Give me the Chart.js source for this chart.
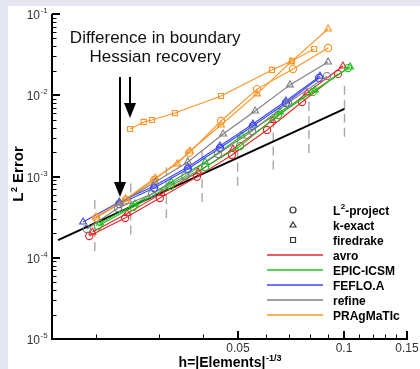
<!DOCTYPE html>
<html>
<head>
<meta charset="utf-8">
<script src="https://cdn.jsdelivr.net/npm/chart.js@4.4.0/dist/chart.umd.min.js"></script>
<style>
html, body { margin:0; padding:0; background:#e6e6f3; }
</style>
</head>
<body>
<canvas id="chart" width="420" height="369"></canvas>
<script>
// --- data: h values and L2 errors per code / method ---
const avroL2H = [0.0191, 0.0241, 0.0302, 0.0384, 0.0482, 0.0605, 0.0759, 0.0959];
const avroL2E = [1.85e-4, 3.08e-4, 5.44e-4, 9.9e-4, 1.84e-3, 3.74e-3, 8.26e-3, 1.83e-2];
const avroKH = [0.0195, 0.0244, 0.0306, 0.0387, 0.0485, 0.0627, 0.0784, 0.0990];
const avroKE = [2.07e-4, 3.5e-4, 6.2e-4, 1.14e-3, 2.18e-3, 4.9e-3, 1.07e-2, 2.29e-2];

const epicL2H = [0.0202, 0.0254, 0.0323, 0.0405, 0.0508, 0.0650, 0.0815, 0.1023];
const epicL2E = [2.46e-4, 4.21e-4, 7.64e-4, 1.31e-3, 2.37e-3, 5.71e-3, 1.10e-2, 2.16e-2];
const epicKH = [0.0205, 0.0257, 0.0325, 0.0405, 0.0514, 0.0658, 0.0826, 0.1037];
const epicKE = [2.68e-4, 4.59e-4, 8.56e-4, 1.51e-3, 3.15e-3, 6.22e-3, 1.16e-2, 2.23e-2];

const fefloL2H = [0.0232, 0.0291, 0.0362, 0.0446, 0.0552, 0.0684, 0.0848];
const fefloL2E = [4.59e-4, 7.22e-4, 1.24e-3, 2.24e-3, 4.18e-3, 8.03e-3, 1.63e-2];
const fefloKH = [0.01835, 0.0232, 0.0291, 0.0362, 0.0446, 0.0552, 0.0684, 0.0853];
const fefloKE = [2.75e-4, 4.85e-4, 7.64e-4, 1.31e-3, 2.37e-3, 4.43e-3, 8.49e-3, 1.72e-2];

const refineL2H = [0.0188, 0.0230, 0.0287, 0.0356, 0.0440, 0.0549, 0.0693, 0.0893];
const refineL2E = [2.26e-4, 4.10e-4, 6.09e-4, 1.01e-3, 1.89e-3, 3.63e-3, 8.03e-3, 1.72e-2];
const refineKH = [0.0233, 0.0293, 0.0362, 0.0455, 0.0560, 0.0702, 0.0899];
const refineKE = [4.72e-4, 8.56e-4, 1.51e-3, 3.33e-3, 6.40e-3, 1.34e-2, 2.57e-2];

const pragL2H = [0.01995, 0.0242, 0.0291, 0.0365, 0.0449, 0.0567, 0.0716, 0.0899];
const pragL2E = [3.08e-4, 5.14e-4, 9.06e-4, 1.95e-3, 4.82e-3, 1.19e-2, 2.10e-2, 3.82e-2];
const pragKH = [0.01995, 0.0242, 0.0293, 0.0338, 0.0367, 0.0449, 0.0567, 0.0707, 0.0899];
const pragKE = [3.17e-4, 5.3e-4, 9.58e-4, 1.43e-3, 2.06e-3, 4.30e-3, 1.04e-2, 2.57e-2, 6.54e-2];
const pragFdH = [0.0249, 0.0272, 0.0287, 0.0333, 0.0449, 0.0625, 0.0712, 0.0821];
const pragFdE = [3.84e-3, 4.69e-3, 4.96e-3, 6.04e-3, 9.79e-3, 2.05e-2, 2.65e-2, 3.71e-2];

// slope-2 reference line
const refH = [0.0156, 0.1];
const refE = [1.65e-4, 6.78e-3];

// dashed vertical bars round the reference line
const dashH = [0.0198, 0.0250, 0.0315, 0.0397, 0.0500, 0.0630, 0.0794, 0.1000];
const dashLo = [1.21e-4, 1.93e-4, 3.06e-4, 4.86e-4, 7.7e-4, 1.22e-3, 1.94e-3, 3.08e-3];
const dashHi = [5.85e-4, 9.32e-4, 1.48e-3, 2.35e-3, 3.73e-3, 5.92e-3, 9.4e-3, 1.49e-2];

// axes
const xMajor = [0.05, 0.1, 0.15];
const xMajorLabels = ['0.05', '0.1', '0.15'];
const xMinor = [0.02, 0.03, 0.04, 0.06, 0.07, 0.08, 0.09, 0.11, 0.12, 0.13, 0.14];
const yDecades = [1e-5, 1e-4, 1e-3, 1e-2, 1e-1];
const yDecadeExp = ['-5', '-4', '-3', '-2', '-1'];

// legend
const codeNames = ['avro', 'EPIC-ICSM', 'FEFLO.A', 'refine', 'PRAgMaTIc'];
const codeColors = ['#e8262a', '#1fc01f', '#3c46ff', '#7f7f7f', '#ff9326'];
const methodNames = ['-project', 'k-exact', 'firedrake'];
const methodStyles = ['circle', 'triangle', 'rect'];

// annotation
const noteLines = ['Difference in boundary', 'Hessian recovery'];
const noteH = 0.0293;
const noteE = [0.0440, 0.0260];
const arrowH = [0.0233, 0.0248];
const arrowTop = [0.0168, 0.0168];
const arrowTip = [5.6e-4, 5.25e-3];

function pts(hs, es) {
    return hs.map((h, i) => ({ x: h, y: es[i] }));
}

function series(hs, es, color, style) {
    return {
        data: pts(hs, es),
        borderColor: color,
        borderWidth: 1.1,
        pointStyle: style,
        pointRadius: style === 'triangle' ? 4 : (style === 'rect' ? 3.6 : 3.6),
        pointBorderColor: color,
        pointBackgroundColor: 'rgba(0,0,0,0)',
        pointBorderWidth: 1.1,
        order: 1
    };
}

const datasets = [];
dashH.forEach((h, i) => {
    datasets.push({
        data: [{ x: h, y: dashLo[i] }, { x: h, y: dashHi[i] }],
        borderColor: '#a8a8a8',
        borderWidth: 1.4,
        borderDash: [9, 5],
        pointRadius: 0,
        order: 10
    });
});
datasets.push({
    data: pts(refH, refE),
    borderColor: '#000',
    borderWidth: 2,
    pointRadius: 0,
    order: 5
});
datasets.push(series(refineL2H, refineL2E, codeColors[3], 'circle'));
datasets.push(series(refineKH, refineKE, codeColors[3], 'triangle'));
datasets.push(series(pragL2H, pragL2E, codeColors[4], 'circle'));
datasets.push(series(pragKH, pragKE, codeColors[4], 'triangle'));
datasets.push(series(pragFdH, pragFdE, codeColors[4], 'rect'));
datasets.push(series(fefloL2H, fefloL2E, codeColors[2], 'circle'));
datasets.push(series(fefloKH, fefloKE, codeColors[2], 'triangle'));
datasets.push(series(epicL2H, epicL2E, codeColors[1], 'circle'));
datasets.push(series(epicKH, epicKE, codeColors[1], 'triangle'));
datasets.push(series(avroL2H, avroL2E, codeColors[0], 'circle'));
datasets.push(series(avroKH, avroKE, codeColors[0], 'triangle'));

const FONT = '"Liberation Sans", Arial, sans-serif';

// text with a superscript part, anchored by its left edge
function supText(ctx, x, y, base, sup, size, supSize, bold, tail) {
    const w = bold ? 'bold ' : '';
    ctx.font = w + size + 'px ' + FONT;
    ctx.textAlign = 'left';
    ctx.textBaseline = 'alphabetic';
    ctx.fillText(base, x, y);
    let cx = x + ctx.measureText(base).width + 0.5;
    ctx.font = w + supSize + 'px ' + FONT;
    ctx.fillText(sup, cx, y - size * 0.42);
    cx += ctx.measureText(sup).width;
    if (tail) {
        ctx.font = w + size + 'px ' + FONT;
        ctx.fillText(tail, cx, y);
        cx += ctx.measureText(tail).width;
    }
    return cx - x;
}

function supWidth(ctx, base, sup, size, supSize, bold, tail) {
    const w = bold ? 'bold ' : '';
    ctx.font = w + size + 'px ' + FONT;
    let t = ctx.measureText(base).width + 0.5 + (tail ? ctx.measureText(tail).width : 0);
    ctx.font = w + supSize + 'px ' + FONT;
    return t + ctx.measureText(sup).width;
}

const paperPlugin = {
    id: 'paper',
    beforeDraw(chart) {
        const ctx = chart.ctx;
        ctx.save();
        ctx.fillStyle = '#e6e6f3';
        ctx.fillRect(0, 0, chart.width, chart.height);
        ctx.fillStyle = '#ffffff';
        ctx.fillRect(8, 6, chart.width - 8, chart.height - 6);
        ctx.restore();
    },
    afterDatasetsDraw(chart) {
        const ctx = chart.ctx;
        const xs = chart.scales.x, ys = chart.scales.y;
        const a = chart.chartArea;
        ctx.save();

        // axis lines
        ctx.strokeStyle = '#000';
        ctx.lineWidth = 2;
        ctx.beginPath();
        ctx.moveTo(a.left, a.top);
        ctx.lineTo(a.left, a.bottom);
        ctx.lineTo(a.right + 1, a.bottom);
        ctx.stroke();

        // y ticks
        yDecades.forEach((v, i) => {
            const py = Math.round(ys.getPixelForValue(v));
            ctx.lineWidth = 2;
            ctx.beginPath();
            ctx.moveTo(a.left, py);
            ctx.lineTo(a.left + 8, py);
            ctx.stroke();
            if (i < yDecades.length - 1) {
                ctx.lineWidth = 1;
                for (let m = 2; m <= 9; m++) {
                    const my = Math.round(ys.getPixelForValue(v * m)) + 0.5;
                    ctx.beginPath();
                    ctx.moveTo(a.left, my);
                    ctx.lineTo(a.left + 4.5, my);
                    ctx.stroke();
                }
            }
            ctx.fillStyle = '#333';
            ctx.font = '12px ' + FONT;
            ctx.textAlign = 'right';
            ctx.textBaseline = 'alphabetic';
            ctx.fillText('10', 40, py + 4.5);
            ctx.textAlign = 'left';
            ctx.font = '8px ' + FONT;
            ctx.fillText(yDecadeExp[i], 40.5, py - 1);
        });

        // x ticks
        ctx.strokeStyle = '#000';
        xMajor.forEach((v, i) => {
            const px = Math.round(xs.getPixelForValue(v));
            ctx.lineWidth = 2;
            ctx.beginPath();
            ctx.moveTo(px, a.bottom);
            ctx.lineTo(px, a.bottom - 8);
            ctx.stroke();
            ctx.fillStyle = '#333';
            ctx.font = '12px ' + FONT;
            ctx.textAlign = 'center';
            ctx.textBaseline = 'middle';
            ctx.fillText(xMajorLabels[i], px, 349);
        });
        ctx.lineWidth = 1;
        xMinor.forEach(v => {
            const px = Math.round(xs.getPixelForValue(v)) + 0.5;
            ctx.beginPath();
            ctx.moveTo(px, a.bottom);
            ctx.lineTo(px, a.bottom - 4.5);
            ctx.stroke();
        });

        // axis titles
        ctx.fillStyle = '#000';
        const xw = supWidth(ctx, 'h=|Elements|', '-1/3', 14, 9, true);
        supText(ctx, 230 - xw / 2, 367, 'h=|Elements|', '-1/3', 14, 9, true);

        ctx.save();
        ctx.translate(23, 174);
        ctx.rotate(-Math.PI / 2);
        const yw = supWidth(ctx, 'L', '2', 15, 9, true, ' Error');
        supText(ctx, -yw / 2, 0, 'L', '2', 15, 9, true, ' Error');
        ctx.restore();

        // legend: methods (markers)
        ctx.strokeStyle = '#333';
        ctx.lineWidth = 1.2;
        const lx = 293, tx = 333;
        methodStyles.forEach((s, i) => {
            const y = 210 + i * 15;
            ctx.beginPath();
            if (s === 'circle') ctx.arc(lx, y, 3, 0, Math.PI * 2);
            else if (s === 'triangle') { ctx.moveTo(lx, y - 3); ctx.lineTo(lx + 3, y + 2); ctx.lineTo(lx - 3, y + 2); ctx.closePath(); }
            else ctx.rect(lx - 2.5, y - 2.5, 5, 5);
            ctx.stroke();
            ctx.fillStyle = '#000';
            if (i === 0) supText(ctx, tx, y + 4.5, 'L', '2', 12, 8, true, methodNames[0]);
            else {
                ctx.font = 'bold 12px ' + FONT;
                ctx.textAlign = 'left';
                ctx.textBaseline = 'alphabetic';
                ctx.fillText(methodNames[i], tx, y + 4.5);
            }
        });
        // legend: codes (lines)
        codeNames.forEach((n, i) => {
            const y = 255 + i * 15;
            ctx.strokeStyle = codeColors[i];
            ctx.lineWidth = 1.3;
            ctx.beginPath();
            ctx.moveTo(267, y);
            ctx.lineTo(323, y);
            ctx.stroke();
            ctx.fillStyle = '#000';
            ctx.font = 'bold 12px ' + FONT;
            ctx.textAlign = 'left';
            ctx.textBaseline = 'alphabetic';
            ctx.fillText(n, tx, y + 4.5);
        });

        // annotation text and arrows
        ctx.fillStyle = '#111';
        ctx.font = '17px ' + FONT;
        ctx.textAlign = 'center';
        ctx.textBaseline = 'alphabetic';
        const nx = xs.getPixelForValue(noteH);
        noteLines.forEach((t, i) => ctx.fillText(t, nx, ys.getPixelForValue(noteE[i])));

        ctx.strokeStyle = '#000';
        ctx.fillStyle = '#000';
        arrowH.forEach((h, i) => {
            const px = Math.round(xs.getPixelForValue(h));
            const top = ys.getPixelForValue(arrowTop[i]);
            const tip = ys.getPixelForValue(arrowTip[i]);
            ctx.lineWidth = 2;
            ctx.beginPath();
            ctx.moveTo(px, top);
            ctx.lineTo(px, tip - 12);
            ctx.stroke();
            ctx.beginPath();
            ctx.moveTo(px, tip);
            ctx.lineTo(px - 6, tip - 15);
            ctx.lineTo(px + 6, tip - 15);
            ctx.closePath();
            ctx.fill();
        });
        ctx.restore();
    }
};

new Chart(document.getElementById('chart'), {
    type: 'line',
    data: { datasets: datasets },
    options: {
        responsive: false,
        animation: false,
        layout: { padding: { left: 52, right: 13, top: 14, bottom: 30 } },
        elements: { line: { tension: 0 } },
        plugins: { legend: { display: false }, tooltip: { enabled: false } },
        scales: {
            x: { type: 'logarithmic', min: 0.015, max: 0.15, display: false },
            y: { type: 'logarithmic', min: 1e-5, max: 1e-1, display: false }
        }
    },
    plugins: [paperPlugin]
});
</script>
</body>
</html>
